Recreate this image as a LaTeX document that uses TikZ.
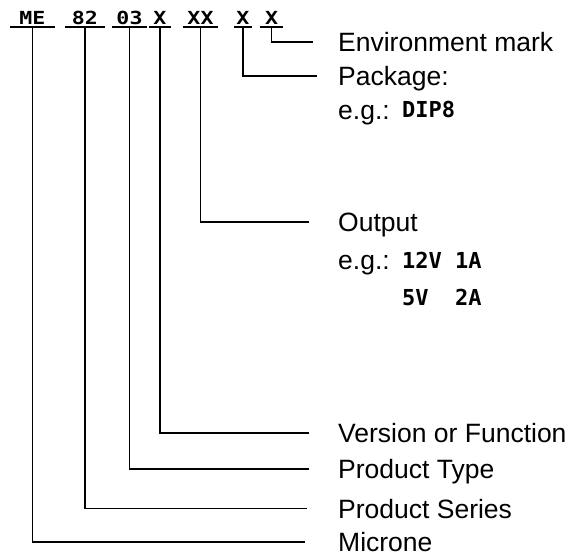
\documentclass[tikz,border=0pt]{standalone}
\usepackage{fontspec}
\usepackage{graphicx}
\setmainfont{Liberation Sans}
\newfontfamily\codefont{DejaVu Sans Mono}
\begin{document}
\begin{tikzpicture}[x=1pt,y=-1pt,
  codebox/.style={anchor=south,inner sep=0pt,text height=13pt,text depth=2.5pt,
    font=\codefont\bfseries\fontsize{18}{18}\selectfont},
  uline/.style={line width=2.2pt},
  conn/.style={line width=1.8pt,line join=miter},
  lbl/.style={anchor=west,inner sep=0pt,text height=19pt,text depth=0pt,
    font=\fontsize{26.5}{27}\selectfont},
  mono/.style={anchor=west,inner sep=0pt,text height=16pt,text depth=0pt,
    font=\codefont\bfseries\fontsize{22}{22}\selectfont}]
\useasboundingbox (0,0) rectangle (576,559);
% code groups
\node[codebox,minimum width=45pt] (cME) at (32.5,27) {\scalebox{1.2}[1]{ME}};
\node[codebox,minimum width=40pt] (c82) at (85,27) {\scalebox{1.2}[1]{82}};
\node[codebox,minimum width=35pt] (c03) at (129.5,27) {\scalebox{1.2}[1]{03}};
\node[codebox,minimum width=21pt] (cV) at (160,27) {\scalebox{1.2}[1]{X}};
\node[codebox,minimum width=35pt] (cO) at (200.5,27) {\scalebox{1.2}[1]{XX}};
\node[codebox,minimum width=17pt] (cP) at (243,27) {\scalebox{1.2}[1]{X}};
\node[codebox,minimum width=23pt] (cE) at (271.5,27) {\scalebox{1.2}[1]{X}};
\foreach \n in {cME,c82,c03,cV,cO,cP,cE}
  \draw[uline] (\n.south west) -- (\n.south east);
% labels
\node[lbl] (lEnv) at (338,42) {Environment mark};
\node[lbl] (lPkg) at (338,76) {Package:};
\node[lbl] (eg1) at (338,110) {e.g.:};
\node[mono] (dip) at (402,110) {DIP8};
\node[lbl] (lOut) at (338,222) {Output};
\node[lbl] (eg2) at (338,260) {e.g.:};
\node[mono] (v12) at (402,260) {12V 1A};
\node[mono] (v5) at (402,297) {5V\ \ 2A};
\node[lbl] (lVer) at (338,433) {Version or Function};
\node[lbl] (lTyp) at (338,469) {Product Type};
\node[lbl] (lSer) at (338,508.5) {Product Series};
\node[lbl] (lMic) at (338,542) {Microne};
% connectors
\draw[conn] (cE.south) |- ([xshift=-25pt]lEnv.west);
\draw[conn] (cP.south) |- ([xshift=-21pt]lPkg.west);
\draw[conn] (cO.south) |- ([xshift=-29pt]lOut.west);
\draw[conn] (cV.south) |- ([xshift=-29pt]lVer.west);
\draw[conn] (c03.south) |- ([xshift=-29pt]lTyp.west);
\draw[conn] (c82.south) |- ([xshift=-31pt]lSer.west);
\draw[conn] (cME.south) |- ([xshift=-33pt]lMic.west);
\end{tikzpicture}
\end{document}
